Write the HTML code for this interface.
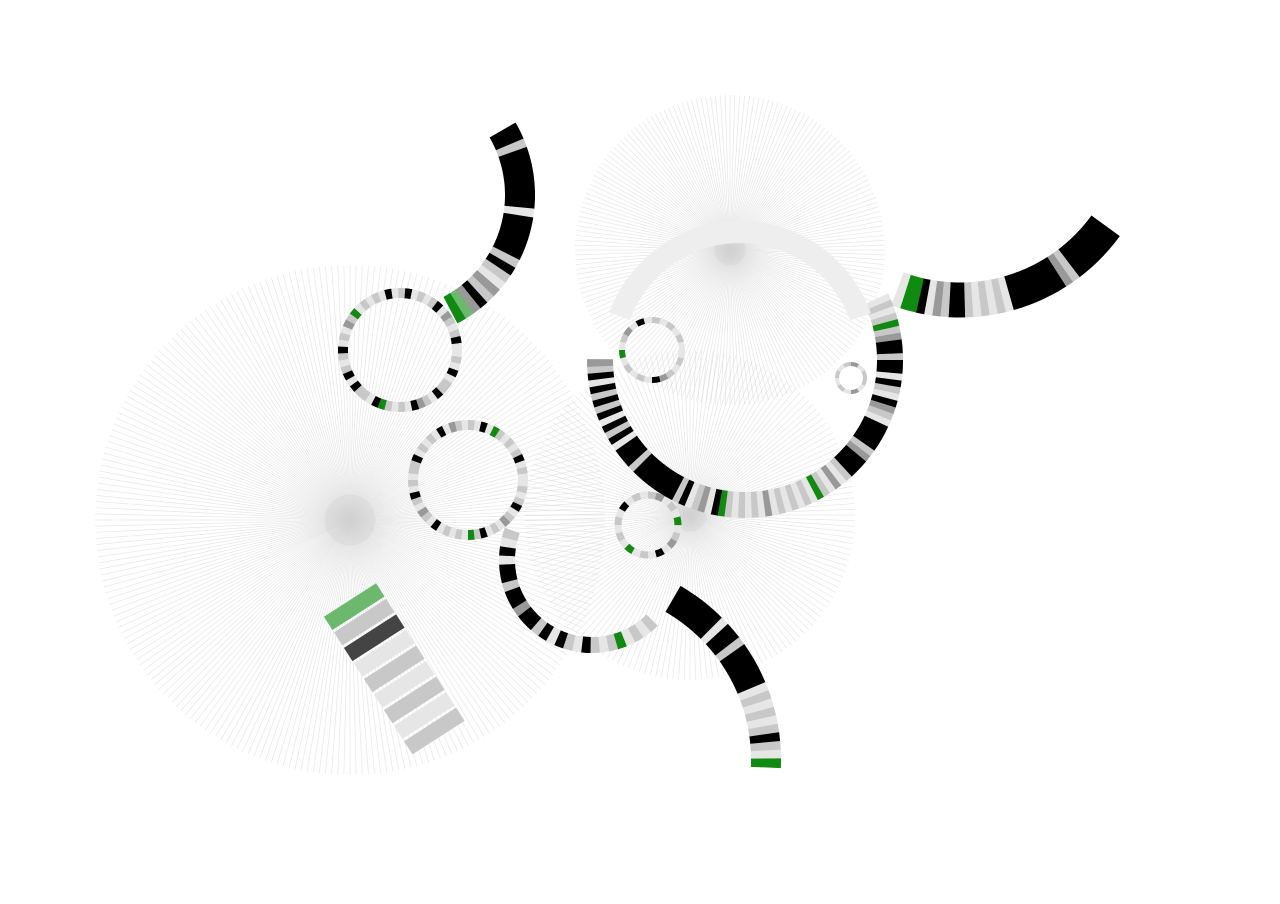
<!DOCTYPE html>
<html><head><meta charset="utf-8"><style>
html,body{margin:0;padding:0;background:#fff;}
svg{display:block;}
</style></head><body>
<svg id="chart" width="1280" height="904" viewBox="0 0 1280 904" xmlns="http://www.w3.org/2000/svg">
<rect width="1280" height="904" fill="#fff"/>
<g id="spiders"></g>
<g id="arcs"></g>
</svg>
<script>
// color codes
const palette = {K:'#000000',D:'#444444',M:'#999999',L:'#c8c8c8',W:'#e6e6e6',G:'#108a10',g:'#6cb86c',F:'#eeeeee'};
// spider bursts
const spiderCenters = [[350,520],[730,250],[690,515]];
const spiderRadii = [255,155,165];
const spiderCounts = [260,200,180];
// arcs
const arcNames = ['ring-left-top','ring-left-mid','ring-small-a','ring-small-b','ring-tiny','arc-top-black','arc-right-black','ring-big-center','ring-big-top-faint','arc-bottom-gray','arc-bottom-black'];
const arcCenters = [[400,350],[468,480],[652,350],[648,525],[851,378],[390,195],[960,120],[745,360],[740,360],[592,560],[580,760]];
const arcRadii = [57,55,30,30,14,130,180,145,128,85,186];
const arcThickness = [10,10,6,7,4,30,35,26,22,16,30];
const arcStart = [0,0,0,0,0,-30,36,-25,200,45,-60];
const arcEnd = [360,360,360,360,360,62,110,180,340,200,2];
const arcPatterns = [
 'WLWKWLLKWLMKWLWLGKWLLKWKLWLKWLWMLGWLWLWKWLKWLWLKWMLWLKW',
 'WLWLKWLMWLWKLGWLWLWKWLMWLKWLWLLKWLWLWKWMLWLWKWGLWLWLKWLW',
 'WLWLMKWLWLWGWLMWKWLWLWLW',
 'WLMWKWLWGWLWLWKWLWLMWLWG',
 'LWMWLWLWLMWL',
 'KKLKKKKKKKWKKKKKLKLWMLKMgG',
 'KKKKKKKLMKKKKKKKWLWLWLKKLMWKGGW',
 'WLWLGLMKKLKKWKLWKMLWKKKKLMKKKLWMWLGWLWLWLWMWLWLWLGKWMLWKLKKKKKKKLKKKWKLKWKLKLKWKLM',
 'FFFFFFFFFFFFFFFFFFFFFFFFFFFF',
 'LWLWGLWLKWLKWKLKKMKKLKKWKWL',
 'KKKKKKWKKLKKKKKWLWLWLKLWG'
];
// straight bar (bottom-left)
const barPattern = ['g','L','D','W','L','W','L','W','L'];

const NS='http://www.w3.org/2000/svg';
const sp=document.getElementById('spiders');
spiderCenters.forEach((c,i)=>{
  const g=document.createElementNS(NS,'g');
  
  
  for(let k=0;k<spiderCounts[i];k++){
    const a=k/spiderCounts[i]*Math.PI*2;
    const l=document.createElementNS(NS,'line');
    l.setAttribute('x1',c[0]);l.setAttribute('y1',c[1]);
    l.setAttribute('x2',c[0]+Math.cos(a)*spiderRadii[i]);
    l.setAttribute('y2',c[1]+Math.sin(a)*spiderRadii[i]);
    l.setAttribute('stroke','#d6d6d6');l.setAttribute('stroke-width','0.7');l.setAttribute('stroke-opacity','0.6');
    
    
    g.appendChild(l);
  }
  const hub=document.createElementNS(NS,'circle');
  hub.setAttribute('cx',c[0]);hub.setAttribute('cy',c[1]);hub.setAttribute('r',spiderRadii[i]*0.1);
  hub.setAttribute('fill','#ccc');hub.setAttribute('fill-opacity','0.3');
  
  
  g.appendChild(hub);
  sp.appendChild(g);
});

function pt(cx,cy,r,a){const t=a*Math.PI/180;return [cx+Math.cos(t)*r,cy+Math.sin(t)*r];}
function wedge(cx,cy,r0,r1,a0,a1){
  const p1=pt(cx,cy,r1,a0),p2=pt(cx,cy,r1,a1),p3=pt(cx,cy,r0,a1),p4=pt(cx,cy,r0,a0);
  const lg=(a1-a0)>180?1:0;
  return `M${p1[0]},${p1[1]}A${r1},${r1} 0 ${lg} 1 ${p2[0]},${p2[1]}L${p3[0]},${p3[1]}A${r0},${r0} 0 ${lg} 0 ${p4[0]},${p4[1]}Z`;
}
const ag=document.getElementById('arcs');
arcNames.forEach((nm,i)=>{
  const g=document.createElementNS(NS,'g');
  
  
  const pat=arcPatterns[i], n=pat.length;
  const span=arcEnd[i]-arcStart[i];
  const [cx,cy]=arcCenters[i];
  const r1=arcRadii[i]+arcThickness[i]/2, r0=arcRadii[i]-arcThickness[i]/2;
  for(let k=0;k<n;k++){
    const a0=arcStart[i]+span*k/n, a1=arcStart[i]+span*(k+1)/n+0.3;
    const p=document.createElementNS(NS,'path');
    p.setAttribute('d',wedge(cx,cy,r0,r1,a0,a1));
    p.setAttribute('fill',palette[pat[k]]);
    
    
    g.appendChild(p);
  }
  ag.appendChild(g);
});
const bg=document.createElementNS(NS,'g');


const bx0=350,by0=600,bx1=440,by1=740,bw=62;
const dx=(bx1-bx0)/barPattern.length, dy=(by1-by0)/barPattern.length;
const ang=Math.atan2(by1-by0,bx1-bx0)*180/Math.PI;
barPattern.forEach((c,k)=>{
  const r=document.createElementNS(NS,'rect');
  const x=bx0+dx*k, y=by0+dy*k, len=Math.hypot(dx,dy);
  r.setAttribute('x',-bw/2);r.setAttribute('y',0);r.setAttribute('width',bw);r.setAttribute('height',len*0.85);
  r.setAttribute('fill',palette[c]);
  r.setAttribute('transform',`translate(${x},${y}) rotate(${ang-90})`);
  
  
  bg.appendChild(r);
});
ag.appendChild(bg);
</script>
</body></html>
